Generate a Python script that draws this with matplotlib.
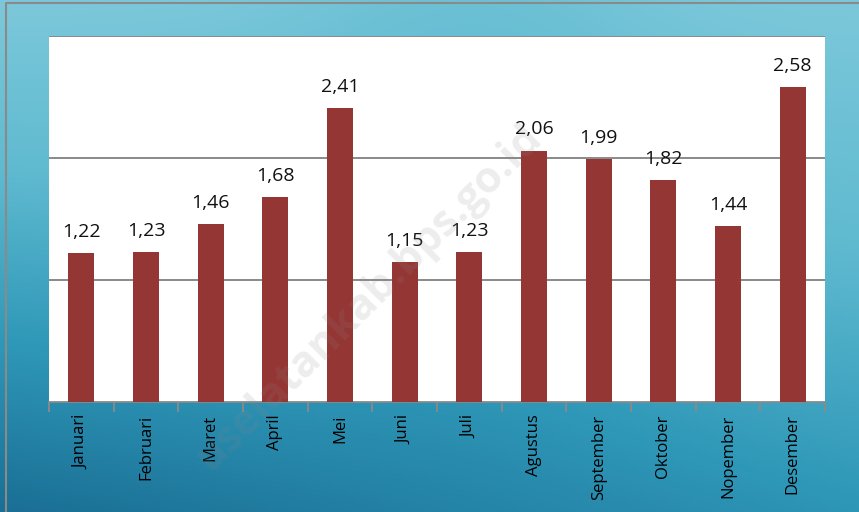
import numpy as np
import matplotlib.pyplot as plt
from matplotlib.colors import LinearSegmentedColormap

bulan = ["Januari", "Februari", "Maret", "April", "Mei", "Juni", "Juli",
         "Agustus", "September", "Oktober", "Nopember", "Desember"]
nilai = [1.22, 1.23, 1.46, 1.68, 2.41, 1.15, 1.23, 2.06, 1.99, 1.82, 1.44, 2.58]
label_nilai = ["1,22", "1,23", "1,46", "1,68", "2,41", "1,15", "1,23",
               "2,06", "1,99", "1,82", "1,44", "2,58"]

plt.rcParams['font.family'] = ['Open Sans', 'DejaVu Sans']

fig = plt.figure(figsize=(8.59, 5.12), dpi=100)

# blue gradient background
bg = fig.add_axes([0, 0, 1, 1])
yy, xx = np.mgrid[0:1:200j, 0:1:340j]
grad = 0.55 * yy + 0.25 * (1 - xx) * yy + 0.15 * np.exp(-((xx - 0.55) ** 2) / 0.05) * (1 - yy)
grad = 1 - grad
cmap = LinearSegmentedColormap.from_list("bg", ["#1a6f95", "#2f98b8", "#5fbad0", "#7cc8da"])
bg.imshow(grad, cmap=cmap, aspect='auto', extent=[0, 1, 0, 1], origin='upper')
bg.plot([0.007, 0.007, 1], [0, 0.994, 0.994], color='#8a8a8a', lw=1.5)
bg.set_xlim(0, 1)
bg.set_ylim(0, 1)
bg.axis('off')

ax = fig.add_axes([49 / 859, 1 - 402 / 512, (825 - 49) / 859, (402 - 36) / 512])
ax.set_facecolor('white')
x = np.arange(len(bulan))
ax.bar(x, nilai, width=0.4, color='#943634', zorder=3)
for xi, v, t in zip(x, nilai, label_nilai):
    ax.text(xi, v + 0.1, t, ha='center', va='bottom', fontsize=14, color='#111111')

ax.set_ylim(0, 3)
ax.set_xlim(-0.5, len(bulan) - 0.5)
ax.set_yticks([1, 2, 3])
ax.yaxis.grid(True, color='#808080', lw=1.3, zorder=0)
ax.tick_params(axis='y', length=0, labelleft=False)

ax.set_xticks(x)
ax.set_xticklabels(bulan, rotation=90, fontsize=12, va='top')
ax.set_xticks(np.arange(-0.5, len(bulan)), minor=True)
ax.tick_params(axis='x', which='major', length=0, pad=9)
ax.tick_params(axis='x', which='minor', length=7, width=1.3, color='#8a8a8a', direction='out')

for s in ['left', 'right', 'top']:
    ax.spines[s].set_visible(False)
ax.spines['bottom'].set_color('#8a8a8a')
ax.spines['bottom'].set_linewidth(1.3)

# faint watermark
fig.text(0.43, 0.42, "uselatankab.bps.go.id", rotation=45, fontsize=31,
         fontweight='bold', color='#888888', alpha=0.15, ha='center', va='center')

fig.savefig("out.png", dpi=100)
